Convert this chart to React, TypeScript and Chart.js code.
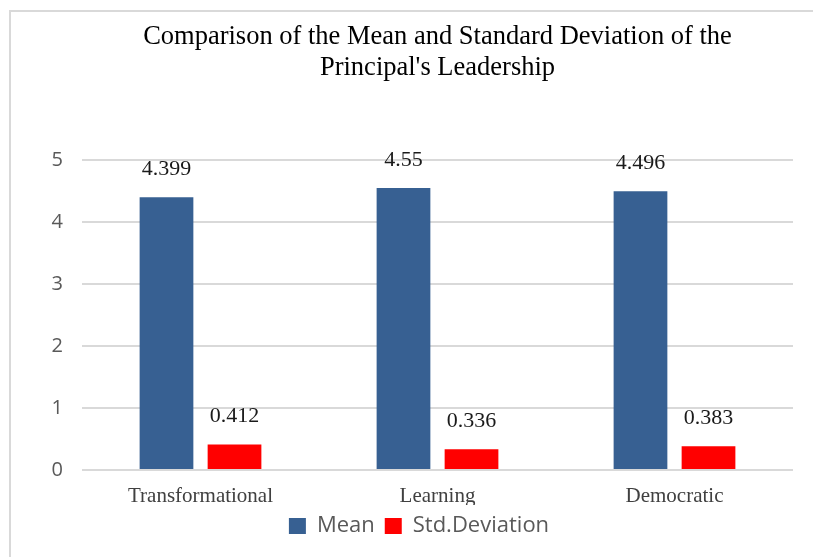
import React, { useEffect, useRef } from "react";
import { Chart, registerables } from "chart.js";

Chart.register(...registerables);

const titleLines = [
  "Comparison of the Mean and Standard Deviation of the",
  "Principal's Leadership",
];
const categories = ["Transformational", "Learning", "Democratic"];
const meanValues = [4.399, 4.55, 4.496];
const stdValues = [0.412, 0.336, 0.383];
const meanLabels = ["4.399", "4.55", "4.496"];
const stdLabels = ["0.412", "0.336", "0.383"];
const seriesNames = ["Mean", "Std.Deviation"];
const yMin = 0;
const yMax = 5;
const yStep = 1;

const BLUE = "#376092";
const RED = "#FF0000";

const bgBorder = {
  id: "bgBorder",
  beforeDraw(chart: any) {
    const ctx = chart.ctx;
    ctx.save();
    ctx.fillStyle = "#ffffff";
    ctx.fillRect(0, 0, chart.width, chart.height);
    ctx.strokeStyle = "#d9d9d9";
    ctx.lineWidth = 2;
    ctx.beginPath();
    ctx.moveTo(10, chart.height);
    ctx.lineTo(10, 11);
    ctx.lineTo(chart.width, 11);
    ctx.stroke();
    ctx.restore();
  },
};

const dataLabels = {
  id: "dataLabels",
  afterDatasetsDraw(chart: any) {
    const ctx = chart.ctx;
    const labelSets = [meanLabels, stdLabels];
    ctx.save();
    ctx.font = "22px 'Liberation Serif', serif";
    ctx.fillStyle = "#1a1a1a";
    ctx.textAlign = "center";
    ctx.textBaseline = "middle";
    chart.data.datasets.forEach((_ds: any, i: number) => {
      const meta = chart.getDatasetMeta(i);
      meta.data.forEach((el: any, j: number) => {
        ctx.fillText(labelSets[i][j], el.x, el.y - 28);
      });
    });
    ctx.restore();
  },
};

export default function App() {
  const canvasRef = useRef<HTMLCanvasElement | null>(null);

  useEffect(() => {
    if (!canvasRef.current) return;
    const chart = new Chart(canvasRef.current, {
      type: "bar",
      data: {
        labels: categories,
        datasets: [
          {
            label: seriesNames[0],
            data: meanValues,
            backgroundColor: BLUE,
            borderWidth: 0,
            categoryPercentage: 0.574,
            barPercentage: 0.79,
          },
          {
            label: seriesNames[1],
            data: stdValues,
            backgroundColor: RED,
            borderWidth: 0,
            categoryPercentage: 0.574,
            barPercentage: 0.79,
          },
        ],
      },
      options: {
        responsive: false,
        animation: false,
        layout: { padding: { left: 45, right: 20, top: 0, bottom: 10 } },
        scales: {
          x: {
            grid: { display: false, drawTicks: false },
            border: { display: false },
            ticks: {
              padding: 14,
              color: "#404040",
              font: { family: "'Liberation Serif', serif", size: 21 },
            },
            afterFit(scale: any) {
              scale.height = 35;
            },
          },
          y: {
            min: yMin,
            max: yMax,
            grid: { color: "#d9d9d9", lineWidth: 2, drawTicks: false },
            border: { display: false },
            ticks: {
              stepSize: yStep,
              padding: 19,
              color: "#595959",
              font: { family: "'Open Sans', sans-serif", size: 20 },
            },
            afterFit(scale: any) {
              scale.width = 37;
            },
          },
        },
        plugins: {
          title: {
            display: true,
            fullSize: false,
            text: titleLines,
            color: "#000000",
            font: {
              family: "'Liberation Serif', serif",
              size: 26.5,
              weight: "normal",
              lineHeight: 31 / 26.5,
            },
            padding: { top: 21.5, bottom: 76.5 },
          },
          legend: {
            display: true,
            position: "bottom",
            align: "center",
            labels: {
              boxWidth: 17,
              boxHeight: 16,
              padding: 10,
              color: "#595959",
              font: { family: "'Open Sans', sans-serif", size: 22 },
            },
          },
          tooltip: { enabled: false },
        },
      },
      plugins: [bgBorder, dataLabels],
    } as any);
    return () => chart.destroy();
  }, []);

  return (
    <div
      style={{
        position: "fixed",
        left: 0,
        top: 0,
        width: 813,
        height: 557,
        background: "#fff",
      }}
    >
      <canvas
        ref={canvasRef}
        width={813}
        height={557}
        style={{ width: 813, height: 557, display: "block" }}
      />
    </div>
  );
}
